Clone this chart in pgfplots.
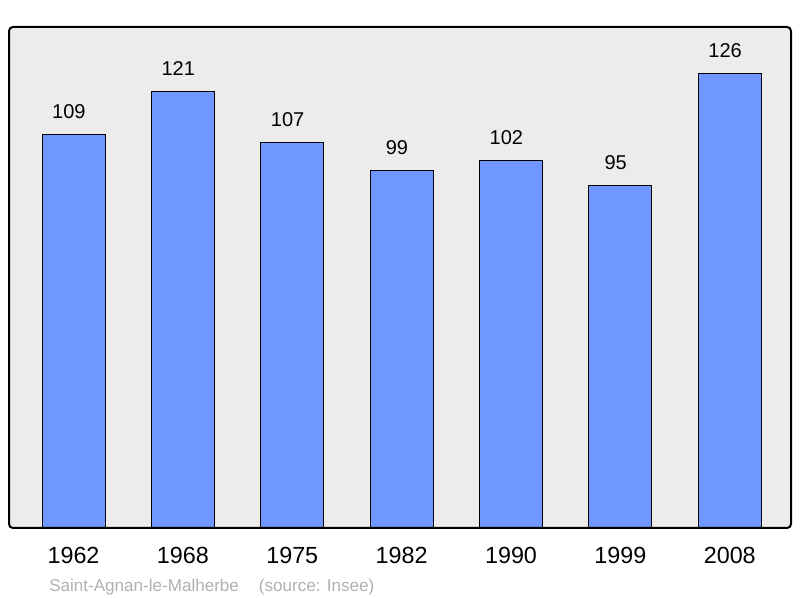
\documentclass[border=0pt]{standalone}
\usepackage{fontspec}
\setmainfont{Liberation Sans}
\usepackage{pgfplots}
\pgfplotsset{compat=1.18}
\definecolor{barblue}{RGB}{112,150,255}
\definecolor{bggray}{RGB}{236,236,236}
\definecolor{capgray}{RGB}{176,176,176}
\begin{document}
\begin{tikzpicture}
\begin{axis}[name=ax,
  scale only axis, width=586.5pt, height=375.75pt,
  xmin=-0.59, xmax=6.56, ymin=0, ymax=138.9,
  ybar, bar width=0.576,
  axis background/.style={fill=bggray},
  axis line style={draw=none},
  major tick length=0pt,
  ytick=\empty,
  xtick={0,1,2,3,4,5,6},
  xticklabels={1962,1968,1975,1982,1990,1999,2008},
  xticklabel style={font=\fontsize{17.5}{20}\selectfont, inner sep=0pt, anchor=north, yshift=-14.5pt},
  /pgf/number format/assume math mode=true,
  nodes near coords,
  nodes near coords style={font=\fontsize{15}{18}\selectfont, inner sep=0pt, anchor=south, yshift=11.5pt, xshift=-3.5pt, /pgf/number format/fixed},
  clip=false,
]
\addplot[fill=barblue, draw=black, line width=0.75pt] coordinates {
(0,109) (1,121) (2,107) (3,99) (4,102) (5,95) (6,126)};
\end{axis}
\draw[line width=1.5pt, rounded corners=3pt] (ax.south west) rectangle (ax.north east);
\node[anchor=base west, inner sep=0pt, text=capgray, font=\fontsize{12.8}{15}\selectfont] at ([shift={(30pt,-48pt)}]ax.south west) {Saint-Agnan-le-Malherbe\hspace{15pt}(source: Insee)};
\path[use as bounding box] ([shift={(-6.75pt,-52.5pt)}]ax.south west) rectangle ([shift={(6.75pt,20.25pt)}]ax.north east);
\end{tikzpicture}
\end{document}
